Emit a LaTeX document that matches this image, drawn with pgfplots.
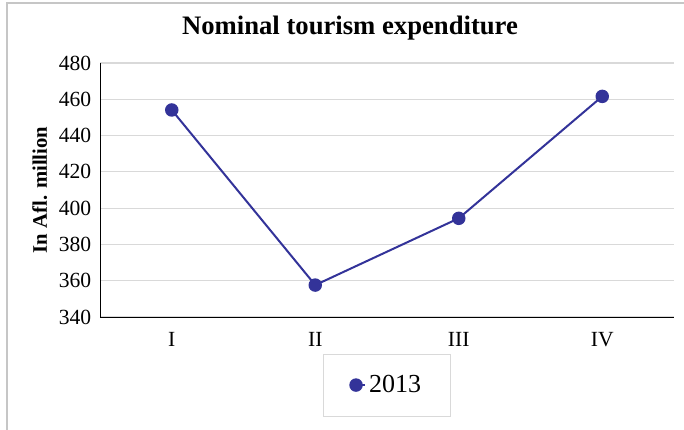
\documentclass[border=0pt]{standalone}
\usepackage{pgfplots}
\pgfplotsset{compat=1.18}
\usepackage{fontspec}
\setmainfont{Liberation Serif}
\definecolor{serie}{HTML}{333399}
\definecolor{rooster}{HTML}{D9D9D9}

\begin{document}
\begin{tikzpicture}
  \useasboundingbox (0pt,0pt) rectangle (513pt,321.75pt);
  % chart frame (cut off at the right and bottom)
  \draw[gray!45, line width=1.6pt] (5.25pt,-20pt) -- (5.25pt,319.5pt) -- (540pt,319.5pt);
  \node[font=\fontsize{20}{24}\selectfont\bfseries] at (262.5pt,301pt) {Nominal tourism expenditure};

  \begin{axis}[
      at={(75pt,84pt)}, anchor=south west,
      scale only axis,
      width=430.5pt, height=190.5pt,
      xmin=0, xmax=4,
      ymin=340, ymax=480,
      ytick={340,360,...,480},
      xtick={0.5,1.5,2.5,3.5},
      xticklabels={I,II,III,IV},
      axis x line*=bottom, axis y line*=left,
      axis line style={black, line width=0.6pt, -},
      major tick length=0pt,
      ymajorgrids,
      grid style={rooster, line width=0.8pt},
      tick label style={font=\fontsize{16.2}{19}\selectfont},
      /pgf/number format/assume math mode=true,
      xticklabel style={yshift=-8pt},
      yticklabel style={xshift=-3pt},
      ylabel={In Afl. million},
      ylabel style={at={(axis description cs:-0.105,0.5)}, anchor=center,
        font=\fontsize{15.5}{18}\selectfont\bfseries},
      legend style={at={(axis description cs:0.5,-0.268)}, anchor=center,
        draw=rooster, line width=0.8pt, inner xsep=20pt, inner ysep=14pt,
        font=\fontsize{19.5}{22}\selectfont},
      legend cell align=left,
      legend image code/.code={
        \draw[#1, mark=none] (0pt,0pt) -- (7pt,0pt);
        \draw[#1] plot coordinates {(0pt,0pt)};
      },
    ]
    \addplot[serie, line width=1.5pt, mark=*, mark size=4.3pt,
      mark options={fill=serie, draw=serie}]
      coordinates {(0.5,454.1) (1.5,357.6) (2.5,394.4) (3.5,461.6)};
    \addlegendentry{2013}
  \end{axis}
\end{tikzpicture}
\end{document}
